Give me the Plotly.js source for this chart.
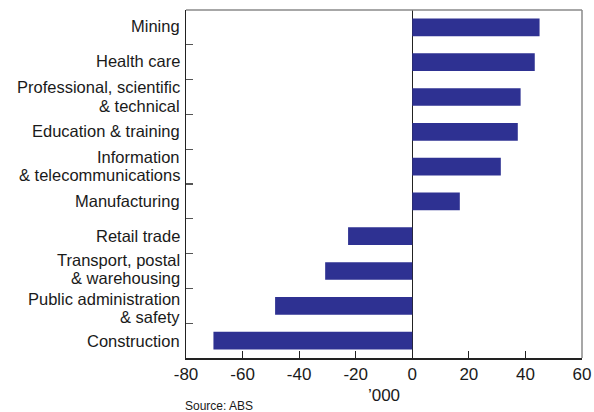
<!DOCTYPE html>
<html><head><meta charset="utf-8">
<script src="https://cdn.plot.ly/plotly-3.0.1.min.js"></script>
<style>html,body{margin:0;padding:0;background:#fff}#c{width:594px;height:412px}</style>
</head><body><div id="c"></div>
<script>
var categories = ["Mining","Health care","Professional, scientific & technical","Education & training","Information & telecommunications","Manufacturing","Retail trade","Transport, postal & warehousing","Public administration & safety","Construction"];
var labelLines = [["Mining"],["Health care"],["Professional, scientific","& technical"],["Education & training"],["Information","& telecommunications"],["Manufacturing"],["Retail trade"],["Transport, postal","& warehousing"],["Public administration","& safety"],["Construction"]];
var values = [45.0, 43.3, 38.3, 37.3, 31.3, 16.8, -22.7, -30.8, -48.5, -70.3];
var xTicks = [-80,-60,-40,-20,0,20,40,60];

var font = "Liberation Sans, Arial, Helvetica, sans-serif";
// vertical offsets (px, upward positive) of each label line from its category centre
var lineShifts = [[1.5],[1],[9.8,-8.8],[0.5],[9.8,-8.8],[0.5],[0.5],[11.5,-7.1],[7.1,-11.5],[0]];
var annotations = [];
labelLines.forEach(function(lines, i){
  lines.forEach(function(t, j){
    annotations.push({text: t, xref:'paper', x:0, xanchor:'right', xshift:-4,
      yref:'y', y: categories[i], yanchor:'middle', yshift: lineShifts[i][j], showarrow:false,
      font:{family:font, size:16.5, color:'#1a1a1a'}});
  });
});
annotations.push({text:"Source: ABS", xref:'paper', x:0, xanchor:'left', xshift:-3,
  yref:'paper', y:0, yanchor:'top', yshift:-39, showarrow:false,
  font:{family:font, size:12, color:'#1a1a1a'}});

var trace = {type:'bar', orientation:'h', y: categories, x: values, width:0.51,
  marker:{color:'#2E3192', line:{width:0}}, hoverinfo:'skip'};

var layout = {
  width:594, height:412,
  margin:{l:185.5, r:11.5, t:10, b:54},
  paper_bgcolor:'#fff', plot_bgcolor:'#fff',
  showlegend:false,
  font:{family:font, color:'#1a1a1a'},
  xaxis:{range:[-80,60], tickvals:xTicks, ticktext:xTicks.map(String),
    ticks:'inside', ticklen:7, tickcolor:'#222', tickwidth:1.2,
    showline:true, linecolor:'#222', linewidth:1.5,
    showgrid:false, zeroline:true, zerolinecolor:'#222', zerolinewidth:1.5,
    tickfont:{family:font, size:17, color:'#1a1a1a'},
    title:{text:"\u2019000", font:{family:font, size:17, color:'#1a1a1a'}, standoff:6},
    fixedrange:true},
  yaxis:{type:'category', categoryorder:'array', categoryarray:categories,
    autorange:'reversed', showticklabels:false,
    ticks:'inside', tickson:'boundaries', ticklen:7, tickcolor:'#555', tickwidth:1.2,
    showline:true, linecolor:'#222', linewidth:1.5, showgrid:false, zeroline:false,
    fixedrange:true},
  shapes:[
    {type:'line', xref:'paper', yref:'paper', x0:0, x1:1, y0:1, y1:1, line:{color:'#8a8a8a', width:1.5}},
    {type:'line', xref:'paper', yref:'paper', x0:1, x1:1, y0:0, y1:1, line:{color:'#8a8a8a', width:1.5}}
  ],
  annotations: annotations
};
Plotly.newPlot('c', [trace], layout, {staticPlot:true, displayModeBar:false});
</script></body></html>
